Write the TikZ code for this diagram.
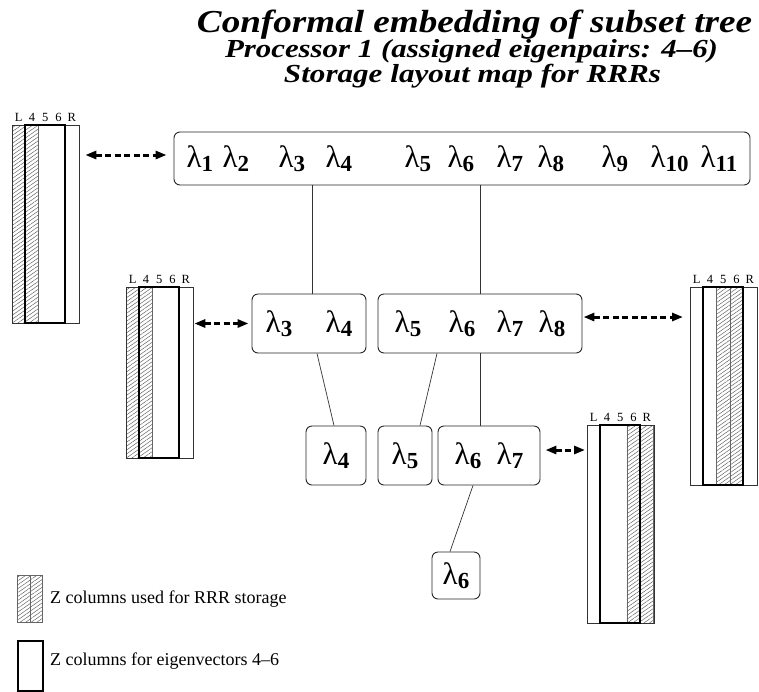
\documentclass[tikz,border=0pt]{standalone}
\usepackage{fontspec}
\usepackage{graphicx}
\setmainfont{Liberation Serif}
\usetikzlibrary{arrows.meta,patterns.meta}

% eigenvalue with bold subscript
\newcommand\lam[1]{{\fontsize{31}{31}\selectfont λ}\raisebox{-3.5pt}{\fontsize{23}{23}\selectfont\bfseries #1}}
% eigenvalue in a slot of fixed width (left aligned)
\newcommand\slot[2]{\makebox[#1pt][l]{\lam{#2}}}
% heading line stretched horizontally to a given width
\newcommand\headline[3]{{\fontsize{#2}{#2}\selectfont\bfseries\itshape\resizebox{#1pt}{\height}{#3}}}
\def\cw{13.3}

% a block of Z columns L,4,5,6,R: #1 name, #2 left x, #3 top y, #4 bottom y, #5 hatched columns
\newcommand\zcols[5]{%
  \foreach \col in {#5}{\path[hatch] ({#2+\col*\cw},#3) rectangle ({#2+(\col+1)*\cw},#4);}
  \node[frame, inner sep=0pt, anchor=north west, minimum width={5*\cw pt},
        minimum height={#4pt-#3pt}] (#1) at (#2,#3) {};
  \draw[evbox] ({#2+\cw},#3) rectangle ({#2+4*\cw},#4);
  \foreach \lbl [count=\i from 0] in {L,4,5,6,R}
    \node[collab] (#1-\lbl) at ({#2+(\i+0.5)*\cw},{#3-4}) {\lbl};
}

\tikzset{
  treebox/.style={draw=black!85, line width=0.9pt, rounded corners=6pt, inner sep=0pt},
  treeedge/.style={draw=black!80, line width=0.7pt},
  maparrow/.style={line width=3pt, dash pattern=on 6pt off 3.5pt,
    {Triangle[length=11pt,width=8pt]}-{Triangle[length=11pt,width=8pt]}},
  frame/.style={draw=black!80, line width=0.8pt},
  evbox/.style={draw=black, line width=2pt},
  hatch/.style={draw=black!60, line width=0.5pt,
    pattern={Lines[angle=35,distance=3.2pt,line width=0.45pt]}, pattern color=black!65},
  collab/.style={font=\fontsize{12.5}{12.5}\selectfont, anchor=base, inner sep=0pt},
  heading/.style={anchor=base, inner sep=0pt, text depth=0pt},
  legend/.style={font=\fontsize{18}{18}\selectfont, anchor=base west, inner sep=0pt},
}

\begin{document}
\begin{tikzpicture}[x=1pt, y=-1pt]
\useasboundingbox (0,0) rectangle (759,691);

% headings
\node[heading] (title) at (474.5,32) {\headline{555}{32}{Conformal embedding of subset tree}};
\node[heading] (sub1) at (471.5,57) {\headline{493}{26}{Processor 1 (assigned eigenpairs: 4–6)}};
\node[heading] (sub2) at (472.5,82) {\headline{377}{26}{Storage layout map for RRRs}};

% subset tree
\node[treebox, minimum width=576pt, minimum height=53pt] (root) at (462,158.5)
  {\slot{36}{1}\slot{56}{2}\slot{47}{3}\slot{79}{4}\slot{43}{5}\slot{49}{6}\slot{41}{7}\slot{64}{8}\slot{49}{9}\slot{50}{10}\lam{11}};
\node[treebox, minimum width=114pt, minimum height=59pt] (n34) at (309,323.5)
  {\slot{60}{3}\lam{4}};
\node[treebox, minimum width=204pt, minimum height=59pt] (n58) at (480,323.5)
  {\slot{54}{5}\slot{48}{6}\slot{42}{7}\lam{8}};
\node[treebox, minimum width=60pt, minimum height=59pt] (n4) at (336,455.5) {\lam{4}};
\node[treebox, minimum width=54pt, minimum height=59pt] (n5) at (405,455.5) {\lam{5}};
\node[treebox, minimum width=102pt, minimum height=59pt] (n67) at (489,455.5)
  {\slot{42}{6}\lam{7}};
\node[treebox, minimum width=48pt, minimum height=47pt] (n6) at (456,575.5) {\lam{6}};

\draw[treeedge] ([xshift=3pt]n34.north) -- ([xshift=3pt]n34.north |- root.south);
\draw[treeedge] (n58.north) -- (n58.north |- root.south);
\draw[treeedge] ([xshift=8pt]n34.south) -- ([xshift=-2pt]n4.north);
\draw[treeedge] ([xshift=-43pt]n58.south) -- ([xshift=15pt]n5.north);
\draw[treeedge] ([xshift=-9pt]n67.north) -- ([xshift=-9pt]n67.north |- n58.south);
\draw[treeedge] ([xshift=-16pt]n67.south) -- ([xshift=-6pt]n6.north);

% storage layout of the Z columns
\zcols{zA}{12}{125}{323}{0,1}
\zcols{zB}{126}{287}{458}{0,1}
\zcols{zC}{690}{287}{485}{2,3}
\zcols{zD}{587}{425}{623}{3,4}

% mapping arrows
\coordinate (rA) at ([yshift=3.5pt]root.west);
\coordinate (rC) at ([yshift=6.5pt]n58.east);
\coordinate (rD) at ([yshift=5.5pt]n67.east);
\draw[maparrow, shorten <=6pt, shorten >=7pt] (zA.east |- rA) -- (rA);
\draw[maparrow, shorten <=1pt, shorten >=3pt] (zB.east |- n34.west) -- (n34.west);
\draw[maparrow, shorten <=1pt, shorten >=7pt] (rC) -- (zC.west |- rC);
\draw[maparrow, shorten <=5pt, shorten >=2pt] (rD) -- (zD.west |- rD);

% legend
\node[hatch, inner sep=0pt, minimum width=12.5pt, minimum height=47pt, anchor=north west] (keyA1) at (17,575) {};
\node[hatch, inner sep=0pt, minimum width=12.5pt, minimum height=47pt, anchor=north west] (keyA2) at (29.5,575) {};
\node[evbox, inner sep=0pt, minimum width=25pt, minimum height=50pt, anchor=north west] (keyB) at (17,640) {};
\node[legend] (keyAtxt) at (50,603) {Z columns used for RRR storage};
\node[legend] (keyBtxt) at (50,665) {Z columns for eigenvectors 4–6};
\end{tikzpicture}
\end{document}
